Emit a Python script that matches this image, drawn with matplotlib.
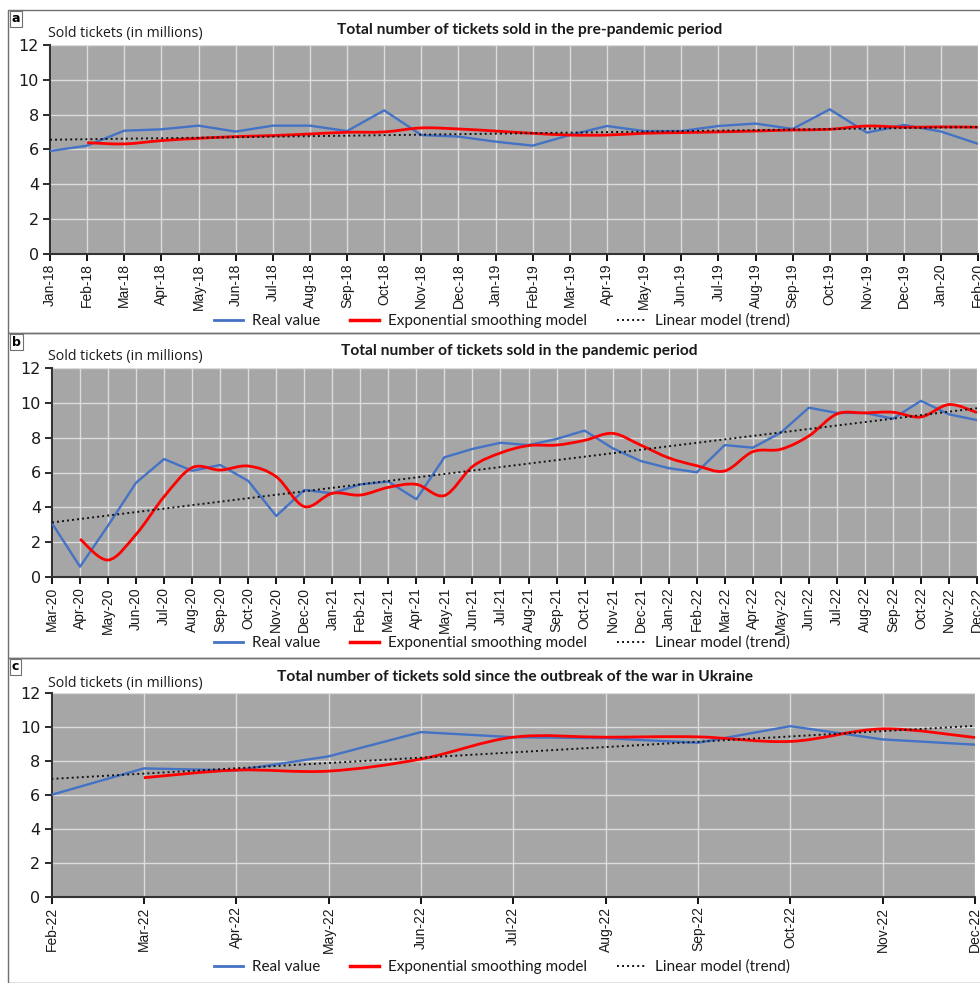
import numpy as np
import pandas as pd
import matplotlib
matplotlib.use("Agg")
import matplotlib.pyplot as plt
from matplotlib.path import Path
from matplotlib.patches import PathPatch, Rectangle
from matplotlib.lines import Line2D

# ---- data ----
months_a = list(pd.date_range("2018-01-01", "2020-02-01", freq="MS").strftime("%b-%y"))
real_a = [5.9, 6.21, 7.07, 7.15, 7.36, 7.02, 7.36, 7.36, 7.05, 8.24, 6.82, 6.73, 6.44,
          6.21, 6.82, 7.34, 7.05, 7.05, 7.34, 7.48, 7.17, 8.3, 6.96, 7.4, 7.02, 6.31]
smooth_a = [6.38, 6.31, 6.5, 6.63, 6.73, 6.79, 6.88, 6.98, 7.0, 7.23, 7.17, 7.05,
            6.92, 6.82, 6.82, 6.92, 6.96, 7.0, 7.05, 7.11, 7.15, 7.34, 7.27, 7.29, 7.27]
trend_a = [6.55, 7.28]

months_b = list(pd.date_range("2020-03-01", "2022-12-01", freq="MS").strftime("%b-%y"))
real_b = [3.09, 0.61, 2.96, 5.42, 6.77, 6.1, 6.43, 5.52, 3.51, 5.0, 4.81, 5.32, 5.48,
          4.47, 6.87, 7.35, 7.7, 7.57, 7.92, 8.4, 7.39, 6.66, 6.25, 6.01, 7.57, 7.42,
          8.28, 9.71, 9.41, 9.41, 9.08, 10.1, 9.33, 9.0]
smooth_b = [2.19, 0.99, 2.46, 4.62, 6.28, 6.14, 6.37, 5.76, 4.05, 4.81, 4.71, 5.15,
            5.32, 4.68, 6.34, 7.12, 7.54, 7.57, 7.84, 8.24, 7.57, 6.84, 6.39, 6.09,
            7.19, 7.33, 8.09, 9.35, 9.41, 9.45, 9.18, 9.89, 9.43]
trend_b = [3.14, 9.68]

months_c = list(pd.date_range("2022-02-01", "2022-12-01", freq="MS").strftime("%b-%y"))
real_c = [6.01, 7.57, 7.45, 8.28, 9.71, 9.41, 9.35, 9.08, 10.06, 9.28, 8.97]
smooth_c = [7.02, 7.47, 7.41, 8.12, 9.41, 9.41, 9.43, 9.16, 9.9, 9.39]
trend_c = [6.95, 10.08]

titles = [
    "Total number of tickets sold in the pre-pandemic period",
    "Total number of tickets sold in the pandemic period",
    "Total number of tickets sold since the outbreak of the war in Ukraine",
]
legend_labels = ["Real value", "Exponential smoothing model", "Linear model (trend)"]

W, H = 980, 983
BLUE = "#4472C4"
RED = "#FF0000"
FACE = "#A6A6A6"
TEXT = "#1a1a1a"
TREND_LS = (0, (1, 1.6))

fig = plt.figure(figsize=(W / 100, H / 100), dpi=100)


def smooth_patch(x, y, **kw):
    """Excel-style smoothed line (Catmull-Rom through the points)."""
    n = len(x)
    verts = [(x[0], y[0])]
    codes = [Path.MOVETO]
    for i in range(n - 1):
        p0 = max(i - 1, 0)
        p3 = min(i + 2, n - 1)
        c1 = (x[i] + (x[i + 1] - x[p0]) / 6, y[i] + (y[i + 1] - y[p0]) / 6)
        c2 = (x[i + 1] - (x[p3] - x[i]) / 6, y[i + 1] - (y[p3] - y[i]) / 6)
        verts += [c1, c2, (x[i + 1], y[i + 1])]
        codes += [Path.CURVE4] * 3
    return PathPatch(Path(verts, codes), fill=False, **kw)


def draw_panel(letter, box, ax_px, months, real, smooth, trend, title,
               title_xy, ylabel_xy, legend_xy):
    top, bottom = box
    fig.add_artist(Rectangle((8 / W, 1 - bottom / H), 1.2, (bottom - top) / H,
                             transform=fig.transFigure, fill=False,
                             ec="#707070", lw=1.0))
    fig.text(12 / W, 1 - (top + 9) / H, letter, fontsize=9, fontweight="bold",
             va="center", ha="left",
             bbox=dict(boxstyle="square,pad=0.15", fc="white", ec="#707070", lw=0.8))

    left, atop, right, abot = ax_px
    ax = fig.add_axes([left / W, 1 - abot / H, (right - left) / W, (abot - atop) / H])
    ax.set_facecolor(FACE)

    x = np.arange(len(months))
    ax.plot(x, real, color=BLUE, lw=1.7, zorder=3)
    xs = x[len(months) - len(smooth):]
    ax.add_patch(smooth_patch(xs, smooth, ec=RED, lw=2.0, zorder=4))
    ax.plot([x[0], x[-1]], trend, color="#111111", lw=1.4, ls=TREND_LS, zorder=5)

    ax.set_xlim(x[0], x[-1])
    ax.set_ylim(0, 12)
    ax.set_yticks(range(0, 13, 2))
    ax.set_xticks(x)
    ax.set_xticklabels(months, rotation=90, fontsize=10, color=TEXT,
                       family="Liberation Sans")
    ax.tick_params(axis="y", labelsize=11.5, colors=TEXT, direction="out",
                   length=5, width=1.3, pad=3)
    ax.tick_params(axis="x", direction="out", length=5, width=1.3, pad=2)
    ax.grid(True, color="#DCDCDC", lw=1.0)
    ax.set_axisbelow(True)
    for s in ["top", "right"]:
        ax.spines[s].set_visible(False)
    for s in ["left", "bottom"]:
        ax.spines[s].set_color("#333333")
        ax.spines[s].set_linewidth(1.5)

    fig.text(title_xy[0] / W, 1 - title_xy[1] / H, title, fontsize=11.2,
             fontweight="bold", family="Lato", ha="center", va="center", color=TEXT)
    fig.text(ylabel_xy[0] / W, 1 - ylabel_xy[1] / H, "Sold tickets (in millions)",
             fontsize=10.2, family="Open Sans", ha="left", va="center", color=TEXT)

    handles = [
        Line2D([], [], color=BLUE, lw=2),
        Line2D([], [], color=RED, lw=2.5),
        Line2D([], [], color="#111111", lw=1.4, ls=TREND_LS),
    ]
    ax.legend(handles, legend_labels,
              loc="center", bbox_to_anchor=(legend_xy[0] / W, 1 - legend_xy[1] / H),
              bbox_transform=fig.transFigure, ncol=3, frameon=False,
              prop={"family": "Lato", "size": 11},
              handlelength=1.9, columnspacing=2.0, handletextpad=0.55,
              borderpad=0, labelcolor=TEXT)
    return ax


draw_panel("a", (10, 333), (50, 45, 978.3, 253.6), months_a, real_a, smooth_a, trend_a,
           titles[0], (530, 30), (48, 33), (502, 321))
draw_panel("b", (333, 658), (52, 367.7, 977, 577.3), months_b, real_b, smooth_b, trend_b,
           titles[1], (519, 351), (48, 356), (502, 643))
draw_panel("c", (658, 983), (51.5, 693.3, 975, 896.7), months_c, real_c, smooth_c, trend_c,
           titles[2], (515, 677), (48, 683), (502, 967))

fig.savefig("out.png", dpi=100)
